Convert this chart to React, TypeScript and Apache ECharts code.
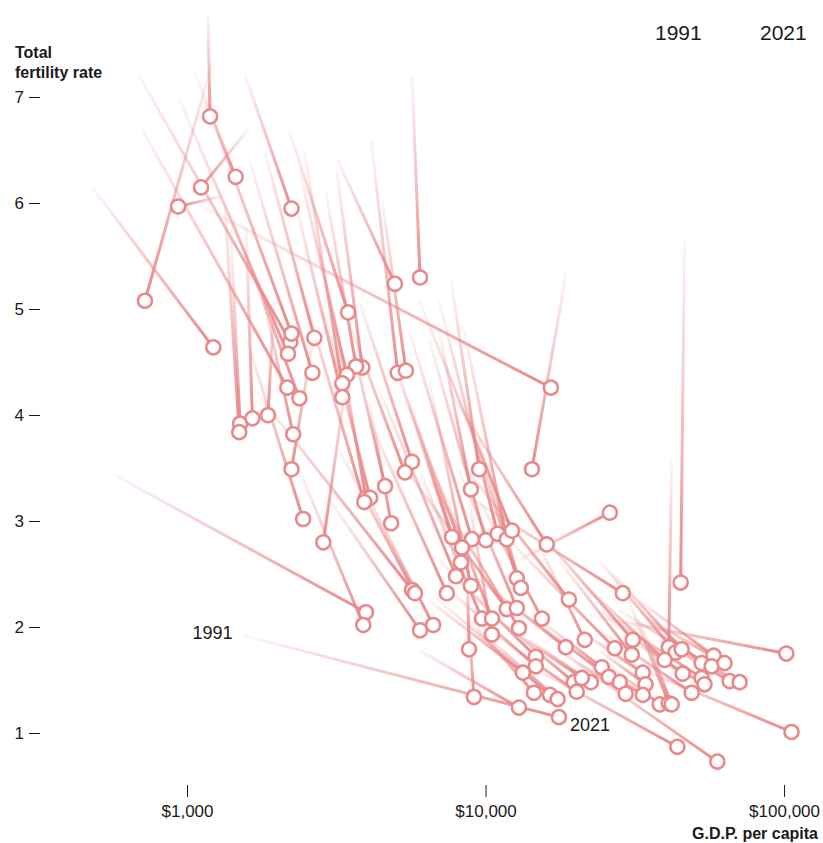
import React, { useEffect, useRef } from "react";
import * as echarts from "echarts";

// G.D.P. per capita (US$) and total fertility rate, 1991 -> 2021, one entry per country
const gdp1991 = [
  1170, 1150, 1210, 1320, 1610, 1550, 480, 690, 940, 1055,
  700, 2190, 3170, 5650, 4120, 4490, 3150, 2910, 7630, 18640,
  1100, 1810, 1610, 2370, 2460, 2290, 1380, 1400, 1330, 1570,
  1950, 1770, 2660, 1580, 3480, 2990, 2800, 2370, 3480, 4060,
  3760, 3350, 6960, 4920, 5530, 6450, 6960, 8440, 5970, 5120,
  5530, 4390, 6450, 4060, 1675, 3220, 8770, 9480, 7520, 565,
  2370, 2990, 3760, 5970, 6960, 8770, 5120, 8120, 6450, 9480,
  8120, 8640, 9480, 6960, 7520, 6450, 8770, 6960, 9480, 8640,
  5970, 1540, 11050, 10230, 12890, 8500, 46240, 15040, 11940, 13930,
  17550, 41870, 23880, 25790, 20470, 22110, 32490, 32490, 27860, 35090,
  25790, 23880, 30080, 23880, 37900, 44210, 15040, 12890, 13930, 11480,
  17550, 20470, 23880, 17550, 22110, 25790, 30080, 32490, 27860, 12890,
  18230,
];
const tfr1991 = [
  7.79, 6.97, 7.33, 6.07, 6.71, 7.23, 6.15, 7.2, 6.98, 7.25,
  6.71, 6.69, 6.42, 7.2, 6.6, 6.03, 6.34, 6.1, 5.27, 5.37,
  5.98, 6.5, 6.41, 6.31, 6.5, 6.03, 5.93, 5.65, 6.03, 5.79,
  5.08, 5.18, 4.8, 4.71, 4.52, 5.18, 5.08, 5.27, 4.8, 4.14,
  5.08, 4.99, 4.8, 4.52, 4.8, 4.71, 5.08, 4.8, 5.08, 4.33,
  4.14, 4.24, 4.33, 3.95, 4.24, 3.67, 3.95, 3.76, 4.24, 3.44,
  3.48, 3.2, 3.39, 3.48, 3.39, 3.2, 3.58, 3.48, 3.39, 3.2,
  3.58, 2.63, 2.44, 2.63, 2.35, 2.25, 2.07, 2.25, 1.97, 2.25,
  1.78, 1.92, 2.07, 1.97, 2.63, 3.25, 5.67, 2.77, 2.82, 3.01,
  2.63, 3.58, 2.63, 2.54, 2.44, 2.11, 2.16, 2.25, 2.16, 2.07,
  2.07, 2.16, 1.88, 1.97, 1.88, 1.78, 2.07, 2.16, 1.88, 2.02,
  1.88, 1.97, 1.78, 1.78, 1.69, 1.64, 2.25, 2.07, 1.69, 1.69,
  1.74,
];
const gdp2021 = [
  1190, 1450, 720, 930, 1110, 2230, 1220, 2210, 2170, 2230,
  2160, 3450, 4950, 6010, 5060, 5390, 3850, 3670, 9480, 14250,
  16490, 2660, 2620, 3420, 3300, 3300, 2370, 1500, 1490, 1650,
  1860, 2260, 2230, 2440, 2850, 3960, 4090, 3910, 4590, 4810,
  5650, 5350, 8900, 7690, 8970, 9990, 10940, 11730, 12210, 8310,
  8240, 7930, 8900, 7390, 5650, 5780, 12680, 13080, 15970, 3960,
  3880, 6010, 6650, 9690, 10470, 10470, 11730, 12680, 12890, 15390,
  18950, 8770, 18500, 14680, 14680, 13290, 14470, 16380, 17370, 9110,
  12890, 17550, 19690, 20120, 25990, 28720, 44870, 21410, 26980, 31010,
  30770, 40930, 43140, 45230, 39640, 101400, 52760, 57870, 56980, 62930,
  45580, 52760, 53940, 48850, 65480, 70720, 24430, 25790, 22440, 20940,
  28070, 33500, 34240, 29360, 33500, 38190, 40930, 41870, 105500, 43750,
  59540,
];
const tfr2021 = [
  6.82, 6.25, 5.08, 5.97, 6.15, 5.95, 4.64, 4.69, 4.58, 4.77,
  4.26, 4.97, 5.24, 5.3, 4.4, 4.42, 4.45, 4.46, 3.49, 3.49,
  4.26, 4.73, 4.4, 4.38, 4.3, 4.17, 4.16, 3.92, 3.84, 3.97,
  4.0, 3.82, 3.49, 3.02, 2.8, 3.22, 3.22, 3.18, 3.33, 2.98,
  3.56, 3.46, 3.3, 2.85, 2.83, 2.82, 2.88, 2.83, 2.91, 2.75,
  2.61, 2.48, 2.39, 2.32, 2.35, 2.32, 2.46, 2.37, 2.78, 2.14,
  2.02, 1.97, 2.02, 2.08, 2.08, 1.93, 2.17, 2.18, 1.99, 2.08,
  2.26, 1.79, 1.81, 1.72, 1.63, 1.57, 1.38, 1.36, 1.32, 1.34,
  1.24, 1.15, 1.48, 1.39, 3.08, 2.32, 2.42, 1.88, 1.8, 1.88,
  1.74, 1.81, 1.76, 1.79, 1.69, 1.75, 1.66, 1.73, 1.63, 1.66,
  1.56, 1.52, 1.46, 1.38, 1.49, 1.48, 1.62, 1.53, 1.48, 1.52,
  1.48, 1.57, 1.46, 1.37, 1.36, 1.27, 1.28, 1.27, 1.01, 0.87,
  0.73,
];
const labeledCountry = 81; // the country annotated with "1991" / "2021"

const xTickValues = [1000, 10000, 100000];
const yTickValues = [1, 2, 3, 4, 5, 6, 7];
const legendYears = ["1991", "2021"];

const FONT = "'Liberation Sans', Arial, Helvetica, sans-serif";
const RGB = "232,137,138";
const TEXT = "#1a1a1a";

export default function App() {
  const ref = useRef<HTMLDivElement>(null);

  useEffect(() => {
    const el = ref.current;
    if (!el) return;
    const chart = echarts.init(el, null, { renderer: "svg" });

    const base: any = {
      animation: false,
      grid: { left: 84, top: 2, width: 725, height: 784 },
      xAxis: {
        type: "log",
        logBase: 10,
        min: 450,
        max: 120000,
        axisLine: { show: false },
        axisTick: { show: false },
        splitLine: { show: false },
        axisLabel: {
          showMinLabel: false,
          showMaxLabel: false,
          margin: 17,
          fontSize: 17,
          fontFamily: FONT,
          color: TEXT,
          formatter: (v: number) =>
            xTickValues.includes(Math.round(v)) ? "$" + Math.round(v).toLocaleString("en-US") : "",
        },
      },
      yAxis: {
        type: "value",
        min: 0.5,
        max: 7.9,
        offset: 44,
        axisLine: { show: false },
        splitLine: { show: false },
        axisTick: {
          show: true,
          length: 11,
          customValues: yTickValues,
          lineStyle: { color: TEXT, width: 1 },
        },
        axisLabel: {
          customValues: yTickValues,
          margin: 16,
          fontSize: 17,
          fontFamily: FONT,
          color: TEXT,
        },
      },
      series: [],
    };
    chart.setOption(base);

    const toPx = (g: number, t: number) =>
      chart.convertToPixel({ gridIndex: 0 } as any, [g, t]) as unknown as number[];

    const lineSeries = gdp1991.map((g, i) => {
      const p1 = toPx(g, tfr1991[i]);
      const p2 = toPx(gdp2021[i], tfr2021[i]);
      return {
        type: "line",
        data: [
          [g, tfr1991[i]],
          [gdp2021[i], tfr2021[i]],
        ],
        symbol: "none",
        silent: true,
        z: 2,
        lineStyle: {
          width: 3,
          color: {
            type: "linear",
            x: p1[0],
            y: p1[1],
            x2: p2[0],
            y2: p2[1],
            global: true,
            colorStops: [
              { offset: 0, color: `rgba(${RGB},0.07)` },
              { offset: 0.55, color: `rgba(${RGB},0.55)` },
              { offset: 1, color: `rgba(${RGB},1)` },
            ],
          },
        },
      };
    });

    const dots = {
      type: "scatter",
      data: gdp2021.map((g, i) => [g, tfr2021[i]]),
      symbol: "circle",
      symbolSize: 14,
      silent: true,
      z: 5,
      itemStyle: { color: "#ffffff", borderColor: `rgb(${RGB})`, borderWidth: 2.5, opacity: 1 },
    };

    const ticks = xTickValues.map((v) => {
      const p = toPx(v, 1);
      return {
        type: "line",
        shape: { x1: p[0], y1: 785, x2: p[0], y2: 797 },
        style: { stroke: TEXT, lineWidth: 1 },
        silent: true,
      };
    });

    const a1 = toPx(gdp1991[labeledCountry], tfr1991[labeledCountry]);
    const a2 = toPx(gdp2021[labeledCountry], tfr2021[labeledCountry]);

    const txt = (text: string, x: number, y: number, extra: any = {}) => ({
      type: "text",
      x,
      y,
      silent: true,
      z: 10,
      style: {
        text,
        fill: TEXT,
        fontFamily: FONT,
        fontSize: 18,
        align: "left",
        verticalAlign: "middle",
        ...extra,
      },
    });

    chart.setOption({
      series: [...lineSeries, dots],
      graphic: [
        ...ticks,
        txt("Total\nfertility rate", 15, 42, {
          fontSize: 16,
          fontWeight: "bold",
          verticalAlign: "top",
          lineHeight: 20,
        }),
        txt("G.D.P. per capita", 818, 833, { fontSize: 16, fontWeight: "bold", align: "right" }),
        txt(legendYears[0], 655, 32, { fontSize: 21 }),
        txt(legendYears[1], 760, 32, { fontSize: 21 }),
        txt(legendYears[0], a1[0] - 11, a1[1] - 3, { align: "right" }),
        txt(legendYears[1], a2[0] + 11, a2[1] + 8),
      ],
    });

    return () => chart.dispose();
  }, []);

  return (
    <div
      ref={ref}
      style={{ position: "absolute", left: 0, top: 0, width: 823, height: 843 }}
    />
  );
}
